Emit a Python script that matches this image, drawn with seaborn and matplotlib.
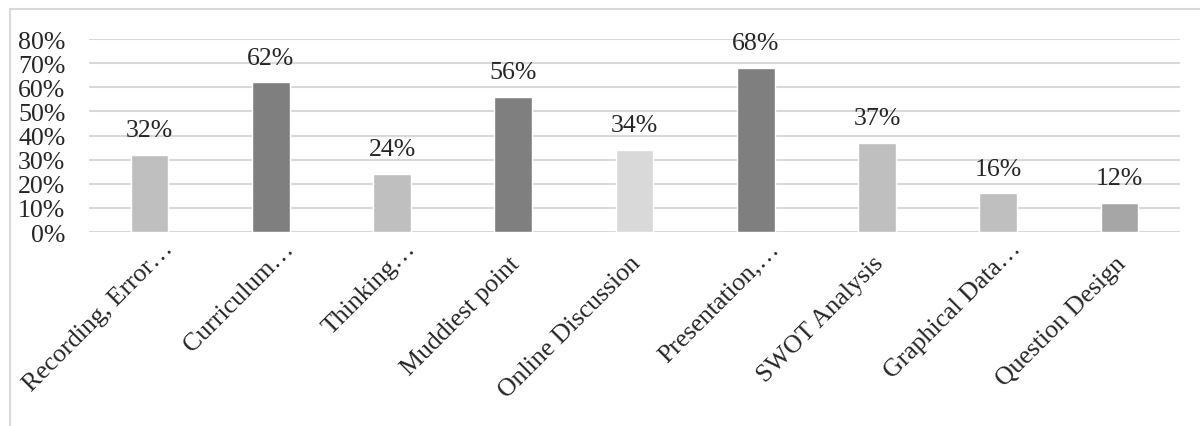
import matplotlib
matplotlib.use("Agg")
import matplotlib.pyplot as plt
import seaborn as sns
import pandas as pd
from matplotlib.patches import Rectangle
from matplotlib.ticker import FuncFormatter
from matplotlib.transforms import ScaledTranslation

categories = ["Recording, Error…", "Curriculum…", "Thinking…", "Muddiest point",
              "Online Discussion", "Presentation,…", "SWOT Analysis",
              "Graphical Data…", "Question Design"]
values = [32, 62, 24, 56, 34, 68, 37, 16, 12]
colors = ["#bfbfbf", "#7f7f7f", "#bfbfbf", "#7f7f7f", "#d9d9d9",
          "#7f7f7f", "#bfbfbf", "#bfbfbf", "#a6a6a6"]
yticks = [0, 10, 20, 30, 40, 50, 60, 70, 80]

sns.set_style("white")
plt.rcParams['font.family'] = ['Liberation Serif', 'DejaVu Serif']
FS = 18.6

df = pd.DataFrame({"cat": categories, "val": values})

W, H = 1200, 427
fig = plt.figure(figsize=(W / 100, H / 100), dpi=100)
ax = fig.add_axes([89 / W, 1 - 233 / H, (1180 - 89) / W, (233 - 40) / H])

sns.barplot(data=df, x="cat", y="val", hue="cat", palette=colors, legend=False,
            width=0.31, ax=ax, saturation=1)

ax.set_ylim(0, 80)
ax.set_xlim(-0.5, len(categories) - 0.5)
ax.set_yticks(yticks)
ax.yaxis.set_major_formatter(FuncFormatter(lambda v, p: f"{int(v)}%"))
ax.yaxis.grid(True, color="#d9d9d9", linewidth=1.5)
ax.set_axisbelow(True)
for s in ax.spines.values():
    s.set_visible(False)
ax.set_xlabel("")
ax.set_ylabel("")
ax.tick_params(axis="y", labelsize=FS, length=0, pad=17)
ax.tick_params(axis="x", labelsize=FS, length=0, pad=0)
fig.canvas.draw()
for lab in ax.get_xticklabels():
    lab.set_rotation(45)
    lab.set_ha("right")
    lab.set_va("baseline")
    lab.set_rotation_mode("anchor")
    if lab.get_text().endswith("…"):
        dx, dy = 24, -17
    else:
        dx, dy = 7, -32
    lab.set_transform(lab.get_transform() + ScaledTranslation(dx / 100, dy / 100, fig.dpi_scale_trans))

for i, v in enumerate(values):
    ax.annotate(f"{v}%", (i, v), xytext=(0, 10), textcoords="offset points",
                ha="center", va="bottom", fontsize=FS)

fig.patches.append(Rectangle((10 / W, -0.5), 2, 1.5 - 10 / H, transform=fig.transFigure,
                             fill=False, edgecolor="#d9d9d9", linewidth=1.5, zorder=0))

fig.savefig("out.png", dpi=100, facecolor="white")
